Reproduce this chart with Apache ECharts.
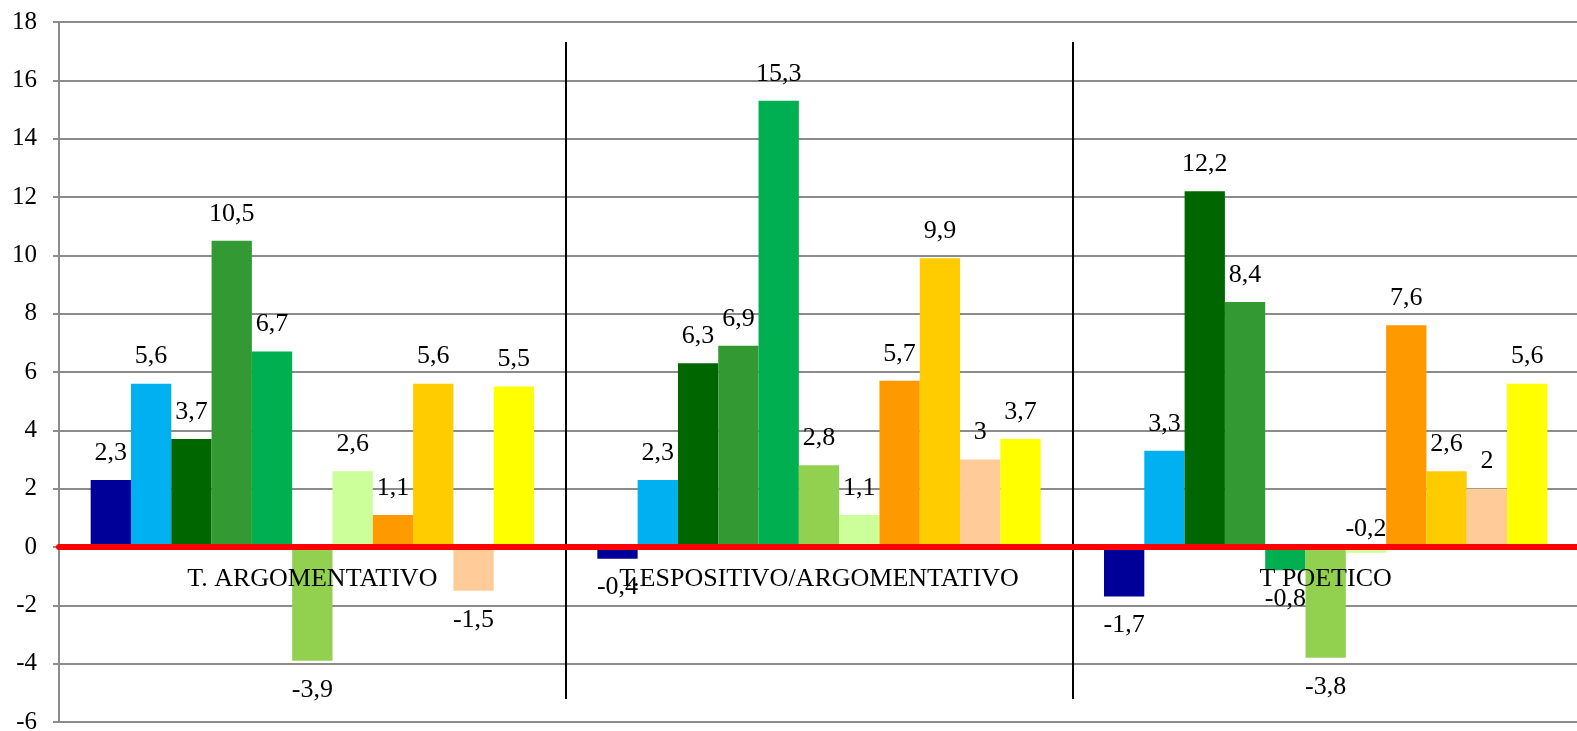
<!DOCTYPE html>
<html>
<head>
<meta charset="utf-8">
<title>Tipologie testuali</title>
<script src="https://cdn.jsdelivr.net/npm/echarts@6/dist/echarts.min.js"></script>
<style>
  html, body { margin: 0; padding: 0; background: #fff; }
  #chart { width: 1577px; height: 731px; }
</style>
</head>
<body>
<div id="chart"></div>
<script>
// categorie (tipi di testo)
const categories = ['T. ARGOMENTATIVO', 'T.ESPOSITIVO/ARGOMENTATIVO', 'T POETICO']

// una serie per colore, un valore per categoria
const s1 = [2.3, -0.4, -1.7]
const s2 = [5.6, 2.3, 3.3]
const s3 = [3.7, 6.3, 12.2]
const s4 = [10.5, 6.9, 8.4]
const s5 = [6.7, 15.3, -0.8]
const s6 = [-3.9, 2.8, -3.8]
const s7 = [2.6, 1.1, -0.2]
const s8 = [1.1, 5.7, 7.6]
const s9 = [5.6, 9.9, 2.6]
const s10 = [-1.5, 3, 2]
const s11 = [5.5, 3.7, 5.6]

const yTicks = { min: -6, max: 18, step: 2 }

const allSeries = [s1, s2, s3, s4, s5, s6, s7, s8, s9, s10, s11]
const colors = ['#000099', '#00B0F0', '#006600', '#339933', '#00B050', '#92D050',
                '#CCFF99', '#FF9900', '#FFCC00', '#FFCC99', '#FFFF00']

const FONT = "'Liberation Serif', 'Times New Roman', serif"
const fmt = v => String(v).replace('.', ',')

// etichetta spostata sopra la linea dello zero nel grafico originale
const labelOnTop = { '6-2': true }

const chart = echarts.init(document.getElementById('chart'))

const series = allSeries.map((vals, si) => ({
  type: 'bar',
  name: 'S' + (si + 1),
  xAxisIndex: 0,
  yAxisIndex: 0,
  barGap: '0%',
  barCategoryGap: '12.5%',
  itemStyle: { color: colors[si] },
  label: {
    show: true,
    color: '#000',
    fontFamily: FONT,
    fontSize: 26,
    formatter: p => fmt(p.value)
  },
  data: vals.map((v, ci) => {
    const above = labelOnTop[si + '-' + ci]
    let pos = 'top', dist = 14
    if (above) dist = 5
    else if (v < 0) { pos = 'bottom'; dist = 16 }
    return { value: v, label: { position: pos, distance: dist } }
  })
}))

const plain = { outerBoundsMode: 'none', containLabel: false }

chart.setOption({
  animation: false,
  backgroundColor: '#fff',
  grid: [
    // area del grafico
    Object.assign({ left: 59, right: -2, top: 22, bottom: 9 }, plain),
    // linee verticali di separazione
    Object.assign({ left: 59, right: -2, top: 42, bottom: 32 }, plain),
    // etichette delle categorie, sotto lo zero
    Object.assign({ left: 59, right: -2, top: 22, bottom: 183 }, plain)
  ],
  xAxis: [
    {
      type: 'category',
      gridIndex: 0,
      data: categories,
      z: 5,
      axisLine: { onZero: true, lineStyle: { color: '#FF0000', width: 6 } },
      axisTick: { show: false },
      axisLabel: { show: false },
      splitLine: { show: false }
    },
    {
      type: 'category',
      gridIndex: 1,
      data: categories,
      axisLine: { show: false },
      axisTick: { show: false },
      axisLabel: { show: false },
      splitLine: {
        show: true,
        interval: idx => idx > 0,
        lineStyle: { color: '#000', width: 2 }
      }
    },
    {
      type: 'category',
      gridIndex: 2,
      data: categories,
      position: 'bottom',
      z: 6,
      axisLine: { show: false, onZero: false },
      axisTick: { show: false },
      axisLabel: { interval: 0, color: '#000', fontFamily: FONT, fontSize: 26, margin: 18 },
      splitLine: { show: false }
    }
  ],
  yAxis: [
    {
      type: 'value',
      gridIndex: 0,
      min: yTicks.min,
      max: yTicks.max,
      interval: yTicks.step,
      axisLine: { show: true, lineStyle: { color: '#8c8c8c', width: 2 } },
      axisTick: { show: true, length: 6, lineStyle: { color: '#8c8c8c', width: 2 } },
      axisLabel: { color: '#000', fontFamily: FONT, fontSize: 25, margin: 22 },
      splitLine: { lineStyle: { color: '#8c8c8c', width: 2 } }
    },
    { type: 'value', gridIndex: 1, min: 0, max: 1, show: false },
    { type: 'value', gridIndex: 2, min: 0, max: 1, show: false }
  ],
  series: series
})
</script>
</body>
</html>
